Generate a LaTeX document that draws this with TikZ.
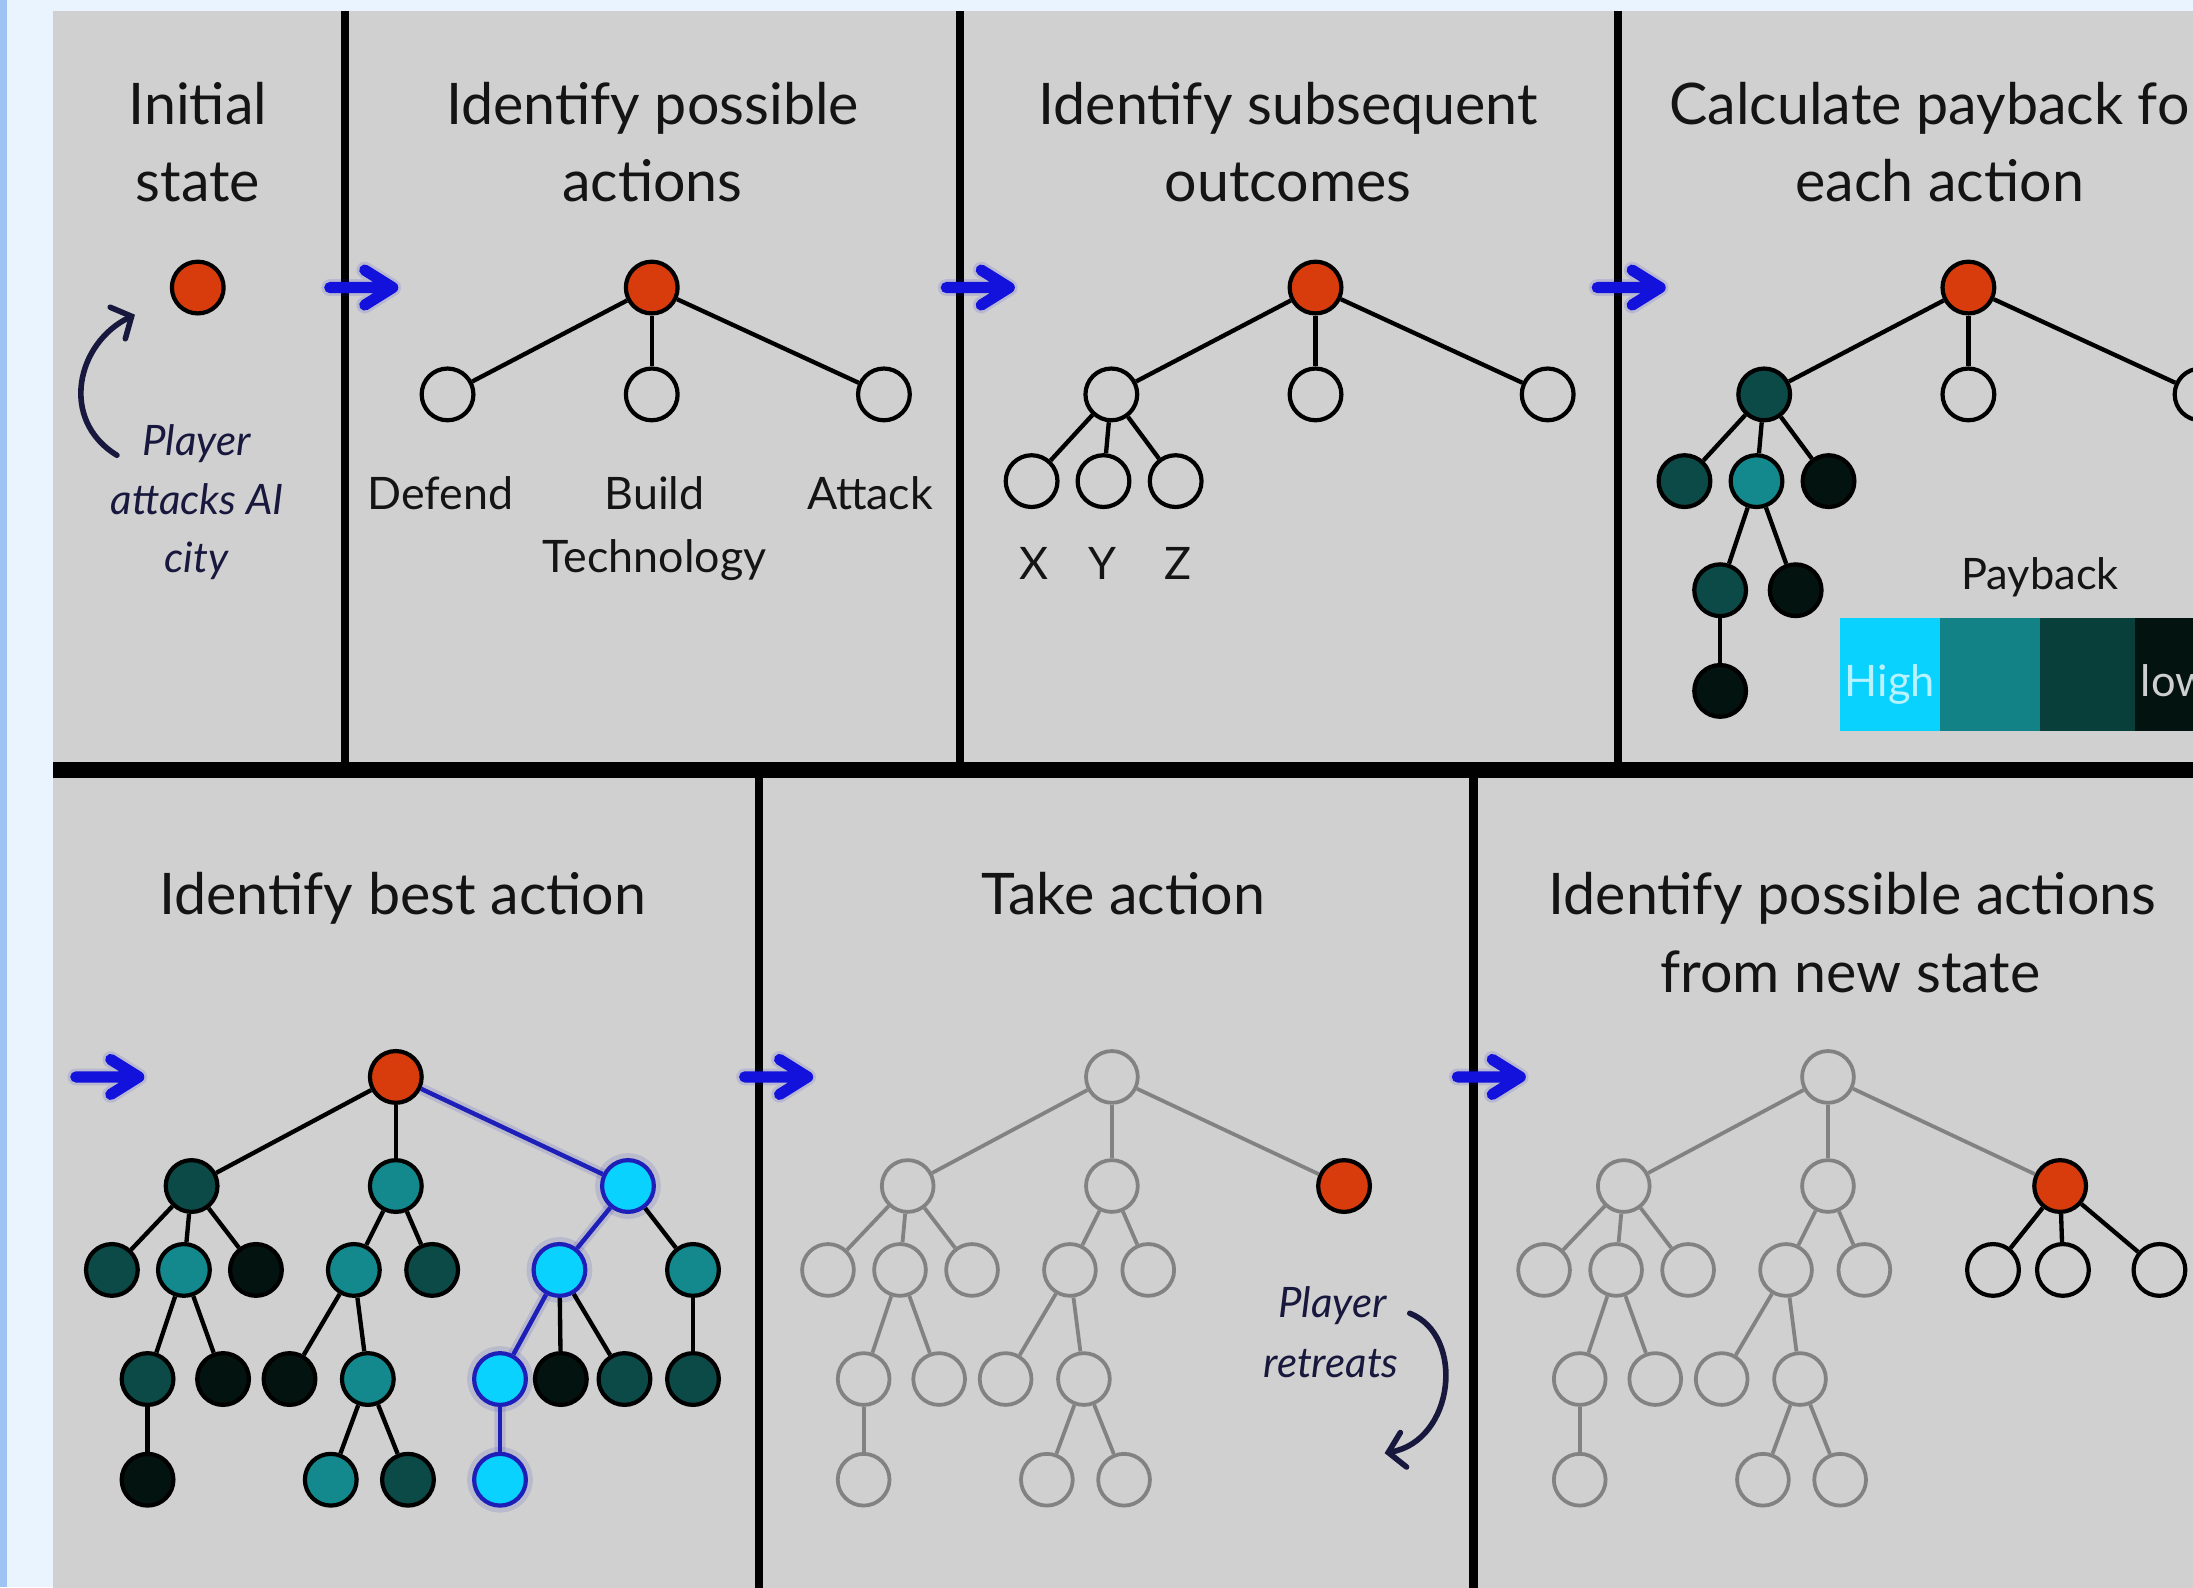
\documentclass[tikz,border=0pt]{standalone}
\usepackage{fontspec}
\setmainfont{Lato}
\usetikzlibrary{arrows.meta}
\definecolor{pagebg}{HTML}{EAF4FF}
\definecolor{strip}{HTML}{9EC4F4}
\definecolor{panel}{HTML}{D0D0D0}
\definecolor{orng}{HTML}{D83C0C}
\definecolor{dteal}{HTML}{0B4A46}
\definecolor{mteal}{HTML}{13898D}
\definecolor{nblack}{HTML}{031310}
\definecolor{hcyan}{HTML}{0AD2FF}
\definecolor{hblue}{HTML}{1E1EB8}
\definecolor{arrblue}{HTML}{1212DC}
\definecolor{navy}{HTML}{18183E}
\definecolor{treegray}{HTML}{828282}
\definecolor{txt}{HTML}{141414}
\definecolor{hightxt}{HTML}{B8F2FF}
\definecolor{lowtxt}{HTML}{CFCFCF}
\tikzset{
 x=1pt,y=-1pt,
 nd/.style={circle,draw=black,line width=3pt,minimum size=37pt,inner sep=0pt,fill=panel},
 hol/.style={nd},
 org/.style={nd,fill=orng},
 dk/.style={nd,fill=dteal},
 tl/.style={nd,fill=mteal},
 bk/.style={nd,fill=nblack},
 cy/.style={nd,fill=hcyan,draw=hblue},
 gnd/.style={nd,draw=treegray,line width=2.7pt},
 edge/.style={draw=black,line width=3.1pt},
 gedge/.style={draw=treegray,line width=2.7pt},
 hedge/.style={draw=hblue,line width=3.2pt},
 glow/.style={draw=hblue,line width=8pt,opacity=0.13},
 divider/.style={draw=black,line width=5.5pt},
 title/.style={anchor=base,text=txt,font=\fontsize{41}{49}\selectfont,inner sep=0pt},
 label/.style={anchor=base,text=txt,font=\fontsize{32}{38}\selectfont,inner sep=0pt},
 note/.style={anchor=base,text=navy,font=\itshape\fontsize{30}{36}\selectfont,inner sep=0pt},
 curvearrow/.style={draw=navy,line width=4pt,line cap=round,-{Straight Barb[length=11pt,width=25pt,line cap=round]}},
 barrow/.pic={
   \draw[arrblue,line width=12pt,opacity=0.12,line cap=round,line join=round] (-49,0) -- (-4,0) (-24,-12.5) -- (-4,0) -- (-24,12.5);
   \draw[arrblue,line width=8pt,line cap=round,line join=round] (-49,0) -- (-4,0) (-24,-12.5) -- (-4,0) -- (-24,12.5);
 },
}
\newcommand\graytree[1]{%
 \node[gnd] (#1r) at (0,0) {};
 \node[gnd] (#1A) at (-146,78) {};
 \node[gnd] (#1B) at (0,78) {};
 \node[gnd] (#1A1) at (-203,138) {};
 \node[gnd] (#1A2) at (-151.5,138) {};
 \node[gnd] (#1A3) at (-100,138) {};
 \node[gnd] (#1A2a) at (-177.5,216) {};
 \node[gnd] (#1A2b) at (-123.5,216) {};
 \node[gnd] (#1A2a1) at (-177.5,288) {};
 \node[gnd] (#1B1) at (-30,138) {};
 \node[gnd] (#1B2) at (26,138) {};
 \node[gnd] (#1B1a) at (-76,216) {};
 \node[gnd] (#1B1b) at (-20,216) {};
 \node[gnd] (#1B1b1) at (-46.5,288) {};
 \node[gnd] (#1B1b2) at (8.7,288) {};
 \node[org] (#1C) at (166,78) {};
 \foreach \a/\b in {r/A,r/B,r/C,A/A1,A/A2,A/A3,A2/A2a,A2/A2b,A2a/A2a1,B/B1,B/B2,B1/B1a,B1/B1b,B1b/B1b1,B1b/B1b2}
   \draw[gedge] (#1\a) -- (#1\b);
}
\begin{document}
\begin{tikzpicture}
\path[use as bounding box] (0,0) rectangle (1568,1135);
\clip (0,0) rectangle (1568,1135);
% backgrounds
\fill[pagebg] (0,0) rectangle (1568,1135);
\fill[strip] (0,0) rectangle (5,1135);
\fill[panel] (38,8) rectangle (1580,1140);
% dividers
\draw[divider] (246.5,8) -- (246.5,550);
\draw[divider] (686.5,8) -- (686.5,550);
\draw[divider] (1156.7,8) -- (1156.7,550);
\draw[draw=black,line width=11pt] (38,550.5) -- (1580,550.5);
\draw[divider,line width=6pt] (542.5,550) -- (542.5,1140);
\draw[divider,line width=6pt] (1053.6,550) -- (1053.6,1140);

% blue step arrows
\pic at (284.8,205.6) {barrow};
\pic at (725.6,205.6) {barrow};
\pic at (1191,205.6) {barrow};
\pic at (103.2,770) {barrow};
\pic at (581.4,770) {barrow};
\pic at (1091,770) {barrow};

% ---------- Panel 1 ----------
\node[title] (t1a) at (141.5,89) {Initial};
\node[title] (t1b) at (141.5,144) {state};
\node[org] (p1r) at (141.4,205.6) {};
\coordinate (p1s) at (83.6,325.5);
\coordinate (p1t) at (96.5,225);
\draw[curvearrow] (p1s) .. controls (42,300) and (55,245) .. (p1t);
\node[note] (n1a) at (140.5,325.5) {Player};
\node[note] (n1b) at (141,368) {attacks AI};
\node[note] (n1c) at (140.5,409) {city};

% ---------- Panel 2 ----------
\node[title] (t2a) at (466.5,89) {Identify possible};
\node[title] (t2b) at (466.5,144) {actions};
\node[org] (p2r) at (466,205.6) {};
\node[hol] (p2A) at (320,282) {};
\node[hol] (p2B) at (466,282) {};
\node[hol] (p2C) at (632,282) {};
\draw[edge] (p2r) -- (p2A);
\draw[edge] (p2r) -- (p2B);
\draw[edge] (p2r) -- (p2C);
\node[label] (l2a) at (315,364.6) {Defend};
\node[label] (l2b) at (468,364.6) {Build};
\node[label] (l2c) at (468,409) {Technology};
\node[label] (l2d) at (622,364.6) {Attack};

% ---------- Panel 3 ----------
\node[title] (t3a) at (921,89) {Identify subsequent};
\node[title] (t3b) at (921,144) {outcomes};
\node[org] (p3r) at (940.6,205.6) {};
\node[hol] (p3A) at (794.6,282) {};
\node[hol] (p3B) at (940.6,282) {};
\node[hol] (p3C) at (1106.6,282) {};
\node[hol] (p3A1) at (737.6,344) {};
\node[hol] (p3A2) at (789,344) {};
\node[hol] (p3A3) at (840.6,344) {};
\foreach \a/\b in {r/A,r/B,r/C,A/A1,A/A2,A/A3}
  \draw[edge] (p3\a) -- (p3\b);
\node[label] (l3x) at (739.5,414) {X};
\node[label] (l3y) at (788.5,414) {Y};
\node[label] (l3z) at (842.5,414) {Z};

% ---------- Panel 4 ----------
\node[title] (t4a) at (1387,89) {Calculate payback for};
\node[title] (t4b) at (1387,144) {each action};
\node[org] (p4r) at (1407.4,205.6) {};
\node[dk] (p4A) at (1261.4,282) {};
\node[hol] (p4B) at (1407.4,282) {};
\node[hol] (p4C) at (1573.4,282) {};
\node[dk] (p4A1) at (1204.4,344) {};
\node[tl] (p4A2) at (1255.9,344) {};
\node[bk] (p4A3) at (1307.4,344) {};
\node[dk] (p4A2a) at (1229.9,422) {};
\node[bk] (p4A2b) at (1283.9,422) {};
\node[bk] (p4A2a1) at (1229.9,494) {};
\foreach \a/\b in {r/A,r/B,r/C,A/A1,A/A2,A/A3,A2/A2a,A2/A2b,A2a/A2a1}
  \draw[edge] (p4\a) -- (p4\b);
\node[label,font=\fontsize{31}{37}\selectfont] (lpay) at (1458.7,421.5) {Payback};
\fill[hcyan] (1315.6,442) rectangle (1387,523);
\fill[mteal!95!black] (1387,442) rectangle (1458.6,523);
\fill[dteal!85!black] (1458.6,442) rectangle (1526.5,523);
\fill[nblack] (1526.5,442) rectangle (1580,523);
\node[label,text=hightxt,font=\fontsize{31}{37}\selectfont] (lhigh) at (1351.3,498) {High};
\node[label,anchor=base west,text=lowtxt,font=\fontsize{31}{37}\selectfont] (llow) at (1530.5,498) {low};

% ---------- Panel 5 ----------
\node[title] (t5a) at (288,653.6) {Identify best action};
\begin{scope}[shift={(283,770)}]
 \draw[glow] (0,0) -- (166,78) -- (117,138) -- (74.5,216) -- (74.5,288);
 \node[org] (p5r) at (0,0) {};
 \node[dk] (p5A) at (-146,78) {};
 \node[tl] (p5B) at (0,78) {};
 \foreach \p in {(166,78),(117,138),(74.5,216),(74.5,288)}
   \fill[hblue,opacity=0.12] \p circle (23.5pt);
 \node[cy] (p5C) at (166,78) {};
 \node[dk] (p5A1) at (-203,138) {};
 \node[tl] (p5A2) at (-151.5,138) {};
 \node[bk] (p5A3) at (-100,138) {};
 \node[dk] (p5A2a) at (-177.5,216) {};
 \node[bk] (p5A2b) at (-123.5,216) {};
 \node[bk] (p5A2a1) at (-177.5,288) {};
 \node[tl] (p5B1) at (-30,138) {};
 \node[dk] (p5B2) at (26,138) {};
 \node[bk] (p5B1a) at (-76,216) {};
 \node[tl] (p5B1b) at (-20,216) {};
 \node[tl] (p5B1b1) at (-46.5,288) {};
 \node[dk] (p5B1b2) at (8.7,288) {};
 \node[cy] (p5C1) at (117,138) {};
 \node[tl] (p5C2) at (212.5,138) {};
 \node[cy] (p5C1a) at (74.5,216) {};
 \node[bk] (p5C1b) at (118,216) {};
 \node[dk] (p5C1c) at (163.5,216) {};
 \node[cy] (p5C1a1) at (74.5,288) {};
 \node[dk] (p5C2a) at (212.5,216) {};
\end{scope}
\foreach \a/\b in {r/A,r/B,A/A1,A/A2,A/A3,A2/A2a,A2/A2b,A2a/A2a1,B/B1,B/B2,B1/B1a,B1/B1b,B1b/B1b1,B1b/B1b2,C/C2,C1/C1b,C1/C1c,C2/C2a}
  \draw[edge] (p5\a) -- (p5\b);
\foreach \a/\b in {r/C,C/C1,C1/C1a,C1a/C1a1}
  \draw[hedge] (p5\a) -- (p5\b);

% ---------- Panel 6 ----------
\node[title] (t6a) at (803,653.6) {Take action};
\begin{scope}[shift={(795,770)}]
 \graytree{p6}
\end{scope}
\node[note] (n6a) at (952.7,941.7) {Player};
\node[note] (n6b) at (951.7,985) {retreats};
\coordinate (p6s) at (1008,939);
\coordinate (p6t) at (990,1039);
\draw[curvearrow] (p6s) .. controls (1048,955) and (1040,1030) .. (p6t);

% ---------- Panel 7 ----------
\node[title] (t7a) at (1324.5,653.6) {Identify possible actions};
\node[title] (t7b) at (1323,709.5) {from new state};
\begin{scope}[shift={(1307,770)}]
 \graytree{p7}
 \node[hol] (p7C1) at (118,138) {};
 \node[hol] (p7C2) at (168,138) {};
 \node[hol] (p7C3) at (237,138) {};
\end{scope}
\foreach \b in {C1,C2,C3}
  \draw[edge] (p7C) -- (p7\b);
\end{tikzpicture}
\end{document}
